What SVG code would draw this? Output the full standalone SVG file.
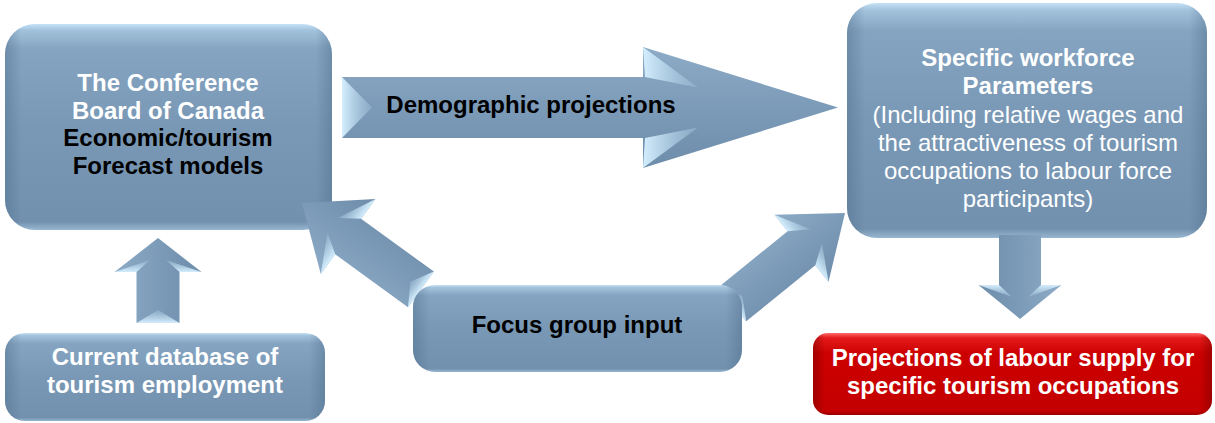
<svg xmlns="http://www.w3.org/2000/svg" width="1215" height="423" viewBox="0 0 1215 423">
  <defs>
    <!-- glossy steel-blue fill for the rounded boxes -->
    <linearGradient id="boxFill" x1="0" y1="0" x2="0" y2="1">
      <stop offset="0" stop-color="#c4e2f7"/>
      <stop offset="0.03" stop-color="#a2c2dc"/>
      <stop offset="0.12" stop-color="#84a4c1"/>
      <stop offset="0.5" stop-color="#7998b5"/>
      <stop offset="0.96" stop-color="#7291af"/>
      <stop offset="1" stop-color="#98b6d0"/>
    </linearGradient>
    <linearGradient id="boxSides" x1="0" y1="0" x2="1" y2="0">
      <stop offset="0" stop-color="#4a6986" stop-opacity="0.4"/>
      <stop offset="0.05" stop-color="#4a6986" stop-opacity="0"/>
      <stop offset="0.95" stop-color="#4a6986" stop-opacity="0"/>
      <stop offset="1" stop-color="#4a6986" stop-opacity="0.4"/>
    </linearGradient>
    <!-- red result box -->
    <linearGradient id="redFill" x1="0" y1="0" x2="0" y2="1">
      <stop offset="0" stop-color="#ff6a6a"/>
      <stop offset="0.06" stop-color="#e41a1a"/>
      <stop offset="0.25" stop-color="#cc0000"/>
      <stop offset="0.95" stop-color="#c40000"/>
      <stop offset="1" stop-color="#9e0000"/>
    </linearGradient>
    <linearGradient id="redSides" x1="0" y1="0" x2="1" y2="0">
      <stop offset="0" stop-color="#700000" stop-opacity="0.45"/>
      <stop offset="0.03" stop-color="#700000" stop-opacity="0"/>
      <stop offset="0.97" stop-color="#700000" stop-opacity="0"/>
      <stop offset="1" stop-color="#700000" stop-opacity="0.45"/>
    </linearGradient>
    <!-- block arrow body and its bevel facets -->
    <linearGradient id="arrowFill" x1="0" y1="0" x2="0" y2="1">
      <stop offset="0" stop-color="#8dabc6"/>
      <stop offset="0.5" stop-color="#7c9bb8"/>
      <stop offset="1" stop-color="#6e8daa"/>
    </linearGradient>
    <linearGradient id="facet" x1="0" y1="0" x2="1" y2="0">
      <stop offset="0" stop-color="#d4eefd"/>
      <stop offset="1" stop-color="#93b4cf" stop-opacity="0.6"/>
    </linearGradient>
    <style>
      .box { fill: url(#boxFill); }
      .sides { fill: url(#boxSides); }
      .red { fill: url(#redFill); }
      .redsides { fill: url(#redSides); }
      .arrow { fill: url(#arrowFill); }
      .facet { fill: url(#facet); }
      text { font-family: "Liberation Sans", Arial, sans-serif; font-size: 24px; text-anchor: middle; }
      .b { font-weight: bold; }
      .w { fill: #ffffff; }
      .k { fill: #000000; }
    </style>
  </defs>

  <rect width="1215" height="423" fill="#ffffff"/>

  <!-- forecast models box -->
  <g id="node-conference">
    <rect class="box" x="5" y="24" width="327" height="206" rx="30"/>
    <rect class="sides" x="5" y="24" width="327" height="206" rx="30"/>
    <text class="b w" x="168" y="91">The Conference</text>
    <text class="b w" x="168" y="118.5">Board of Canada</text>
    <text class="b k" x="168" y="146">Economic/tourism</text>
    <text class="b k" x="168" y="173.5">Forecast models</text>
  </g>

  <!-- workforce parameters box -->
  <g id="node-parameters">
    <rect class="box" x="847" y="3" width="360" height="235" rx="30"/>
    <rect class="sides" x="847" y="3" width="360" height="235" rx="30"/>
    <text class="b w" x="1028" y="66">Specific workforce</text>
    <text class="b w" x="1028" y="94">Parameters</text>
    <text class="w" x="1028" y="122.5">(Including relative wages and</text>
    <text class="w" x="1028" y="151">the attractiveness of tourism</text>
    <text class="w" x="1028" y="179">occupations to labour force</text>
    <text class="w" x="1028" y="207">participants)</text>
  </g>

  <!-- block arrows: local frame has the tip at the origin, pointing along +x -->
  <g id="connectors">
    <g id="arrow-demographic" transform="translate(838,107.5)">
      <polygon class="arrow" points="-496,-30.5 -195,-30.5 -195,-60.5 0,0 -195,60.5 -195,30.5 -496,30.5"/>
      <polygon class="facet" points="-496,-30.5 -466,0 -496,30.5"/>
      <polygon class="facet" points="-195,-60.5 -193,-30.5 -140,-20"/>
      <polygon class="facet" points="-195,60.5 -193,30.5 -140,20"/>
      <text class="b k" x="-307" y="5.5">Demographic projections</text>
    </g>
    <g id="arrow-database-up" transform="translate(158,238) rotate(-90)">
      <polygon class="arrow" points="-85,-21.5 -34,-21.5 -34,-43.5 0,0 -34,43.5 -34,21.5 -85,21.5"/>
      <polygon class="facet" points="-85,-21.5 -72,0 -85,21.5"/>
      <polygon class="facet" points="-34,-43.5 -34,-21.5 -22,-8"/>
      <polygon class="facet" points="-34,43.5 -34,21.5 -22,8"/>
    </g>
    <g id="arrow-parameters-down" transform="translate(1020,319) rotate(90)">
      <polygon class="arrow" points="-84,-21 -34,-21 -34,-41.5 0,0 -34,41.5 -34,21 -84,21"/>
      <polygon class="facet" points="-34,-41.5 -34,-21 -22,-8"/>
      <polygon class="facet" points="-34,41.5 -34,21 -22,8"/>
    </g>
    <g id="arrow-focus-to-models" transform="translate(302,203) rotate(216)">
      <polygon class="arrow" points="-147,-22 -57,-22 -57,-46.5 0,0 -57,46.5 -57,22 -147,22"/>
      <polygon class="facet" points="-147,-22 -134,0 -147,22"/>
      <polygon class="facet" points="-57,-46.5 -57,-22 -38,-9"/>
      <polygon class="facet" points="-57,46.5 -57,22 -38,9"/>
    </g>
    <g id="arrow-focus-to-parameters" transform="translate(845,213) rotate(-39)">
      <polygon class="arrow" points="-145,-22 -56,-22 -56,-43 0,0 -56,43 -56,22 -145,22"/>
      <polygon class="facet" points="-145,-22 -132,0 -145,22"/>
      <polygon class="facet" points="-56,-43 -56,-22 -37,-9"/>
      <polygon class="facet" points="-56,43 -56,22 -37,9"/>
    </g>
  </g>

  <!-- focus group box -->
  <g id="node-focus">
    <rect class="box" x="413" y="285" width="329" height="87" rx="22"/>
    <rect class="sides" x="413" y="285" width="329" height="87" rx="22"/>
    <text class="b k" x="577" y="332.5">Focus group input</text>
  </g>

  <!-- employment database box -->
  <g id="node-database">
    <rect class="box" x="5" y="333" width="320" height="88" rx="20"/>
    <rect class="sides" x="5" y="333" width="320" height="88" rx="20"/>
    <text class="b w" x="165" y="364.5">Current database of</text>
    <text class="b w" x="165" y="392.5">tourism employment</text>
  </g>

  <!-- labour supply projections box -->
  <g id="node-projections">
    <rect class="red" x="813" y="333" width="399" height="82" rx="15"/>
    <rect class="redsides" x="813" y="333" width="399" height="82" rx="15"/>
    <text class="b w" x="1013" y="365.5">Projections of labour supply for</text>
    <text class="b w" x="1013" y="393.5">specific tourism occupations</text>
  </g>
</svg>
